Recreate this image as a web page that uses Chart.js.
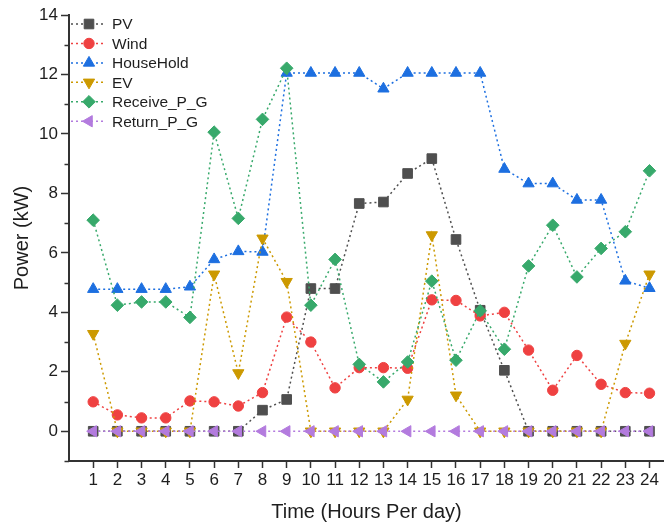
<!DOCTYPE html>
<html>
<head>
<meta charset="utf-8">
<script src="https://cdn.jsdelivr.net/npm/chart.js@4/dist/chart.umd.min.js"></script>
<style>
  html, body { margin: 0; padding: 0; background: #fff; }
  #wrap { width: 664px; height: 527px; }
</style>
</head>
<body>
<div id="wrap"><canvas id="chart"></canvas></div>
<script>
// data
const hours = [1, 2, 3, 4, 5, 6, 7, 8, 9, 10, 11, 12, 13, 14, 15, 16, 17, 18, 19, 20, 21, 22, 23, 24];
const pv = [0, 0, 0, 0, 0, 0, 0, 0.71, 1.07, 4.8, 4.8, 7.66, 7.71, 8.67, 9.17, 6.45, 4.07, 2.05, 0, 0, 0, 0, 0, 0];
const wind = [0.99, 0.55, 0.45, 0.45, 1.02, 0.99, 0.85, 1.3, 3.84, 3.0, 1.46, 2.14, 2.14, 2.12, 4.42, 4.4, 3.88, 4.0, 2.73, 1.38, 2.55, 1.58, 1.3, 1.28];
const houseHold = [4.78, 4.78, 4.78, 4.78, 4.86, 5.78, 6.05, 6.03, 12.05, 12.05, 12.05, 12.05, 11.52, 12.05, 12.05, 12.05, 12.05, 8.82, 8.33, 8.33, 7.78, 7.78, 5.06, 4.81];
const ev = [3.28, 0, 0, 0, 0, 5.28, 1.96, 6.49, 5.03, 0, 0, 0, 0, 1.07, 6.6, 1.21, 0, 0, 0, 0, 0, 0, 2.95, 5.28];
const receivePG = [7.1, 4.24, 4.35, 4.35, 3.83, 10.06, 7.16, 10.49, 12.21, 4.24, 5.78, 2.25, 1.66, 2.33, 5.05, 2.39, 4.05, 2.76, 5.56, 6.93, 5.19, 6.15, 6.71, 8.76];
const returnPG = [0, 0, 0, 0, 0, 0, 0, 0, 0, 0, 0, 0, 0, 0, 0, 0, 0, 0, 0, 0, 0, 0, 0, 0];

const yMajor = [0, 2, 4, 6, 8, 10, 12, 14];
const yMinor = [-1, 1, 3, 5, 7, 9, 11, 13];

const FONT = "'Liberation Sans', Arial, sans-serif";
const AXIS = '#333333';
const TEXT = '#1e1e1e';

const series = [
  { label: 'PV', data: pv, color: '#4f4f4f', style: 'rect', rot: 0, r: 6.8 },
  { label: 'Wind', data: wind, color: '#ef4141', style: 'circle', rot: 0, r: 5.2 },
  { label: 'HouseHold', data: houseHold, color: '#1d6fe0', style: 'triangle', rot: 0, r: 6.5 },
  { label: 'EV', data: ev, color: '#cc9900', style: 'triangle', rot: 180, r: 6.5 },
  { label: 'Receive_P_G', data: receivePG, color: '#37a96b', style: 'rectRot', rot: 0, r: 6.3 },
  { label: 'Return_P_G', data: returnPG, color: '#b37bde', style: 'triangle', rot: 270, r: 6.5 }
];

// legend drawn inside the plot, top-left, with a dotted line through each marker
const insideLegend = {
  id: 'insideLegend',
  afterDraw(chart) {
    const ctx = chart.ctx;
    ctx.save();
    series.forEach((s, i) => {
      const y = 24 + i * 19.45;
      ctx.strokeStyle = s.color;
      ctx.lineWidth = 1.5;
      ctx.setLineDash([2, 3]);
      ctx.beginPath();
      ctx.moveTo(71, y);
      ctx.lineTo(106, y);
      ctx.stroke();
      ctx.setLineDash([]);
      ctx.fillStyle = s.color;
      ctx.lineWidth = 1;
      Chart.helpers.drawPoint(ctx, { pointStyle: s.style, rotation: s.rot, radius: s.r, borderWidth: 1 }, 89, y);
      ctx.fillStyle = TEXT;
      ctx.font = '15.5px ' + FONT;
      ctx.textBaseline = 'middle';
      ctx.textAlign = 'left';
      ctx.fillText(s.label, 112, y + 1);
    });
    ctx.restore();
  }
};

// short minor ticks on the y axis at odd values
const minorTicks = {
  id: 'minorTicks',
  afterDraw(chart) {
    const ys = chart.scales.y;
    const ctx = chart.ctx;
    ctx.save();
    ctx.strokeStyle = AXIS;
    ctx.lineWidth = 1.5;
    yMinor.forEach(v => {
      const py = Math.round(ys.getPixelForValue(v)) + 0.5;
      ctx.beginPath();
      ctx.moveTo(ys.right - 4.5, py);
      ctx.lineTo(ys.right, py);
      ctx.stroke();
    });
    ctx.restore();
  }
};

new Chart(document.getElementById('chart'), {
  type: 'line',
  data: {
    datasets: series.map((s, i) => ({
      label: s.label,
      data: s.data.map((v, k) => ({ x: hours[k], y: v })),
      borderColor: s.color,
      backgroundColor: s.color,
      borderWidth: 1.5,
      borderDash: [2, 3],
      pointStyle: s.style,
      rotation: s.rot,
      pointRadius: s.r,
      pointBorderWidth: 1,
      pointBorderColor: s.color,
      pointBackgroundColor: s.color,
      tension: 0,
      fill: false,
      order: series.length - i
    }))
  },
  options: {
    responsive: true,
    maintainAspectRatio: false,
    animation: false,
    devicePixelRatio: 1,
    layout: { autoPadding: false, padding: { top: 15, right: 0, bottom: 0, left: 0 } },
    plugins: {
      legend: { display: false },
      tooltip: { enabled: false }
    },
    scales: {
      x: {
        type: 'linear',
        min: 0,
        max: 24.6,
        afterBuildTicks: s => { s.ticks = hours.map(v => ({ value: v })); },
        afterFit: s => { s.height = 66; s.paddingLeft = 0; s.paddingRight = 0; },
        ticks: { font: { family: FONT, size: 17 }, color: TEXT, padding: 2, maxRotation: 0, autoSkip: false },
        grid: { drawOnChartArea: false, tickLength: 7, tickColor: AXIS, tickWidth: 1.5 },
        border: { color: AXIS, width: 2 },
        title: { display: true, text: 'Time (Hours Per day)', color: TEXT, font: { family: FONT, size: 20 }, padding: { top: 0, bottom: 3 } }
      },
      y: {
        min: -1,
        max: 14,
        afterBuildTicks: s => { s.ticks = yMajor.map(v => ({ value: v })); },
        afterFit: s => { s.width = 69; s.paddingTop = 0; s.paddingBottom = 0; },
        ticks: { font: { family: FONT, size: 17 }, color: TEXT, padding: 3 },
        grid: { drawOnChartArea: false, tickLength: 8, tickColor: AXIS, tickWidth: 1.5 },
        border: { color: AXIS, width: 2 },
        title: { display: true, text: 'Power (kW)', color: TEXT, font: { family: FONT, size: 20 }, padding: { top: 10, bottom: 0 } }
      }
    }
  },
  plugins: [minorTicks, insideLegend]
});
</script>
</body>
</html>
